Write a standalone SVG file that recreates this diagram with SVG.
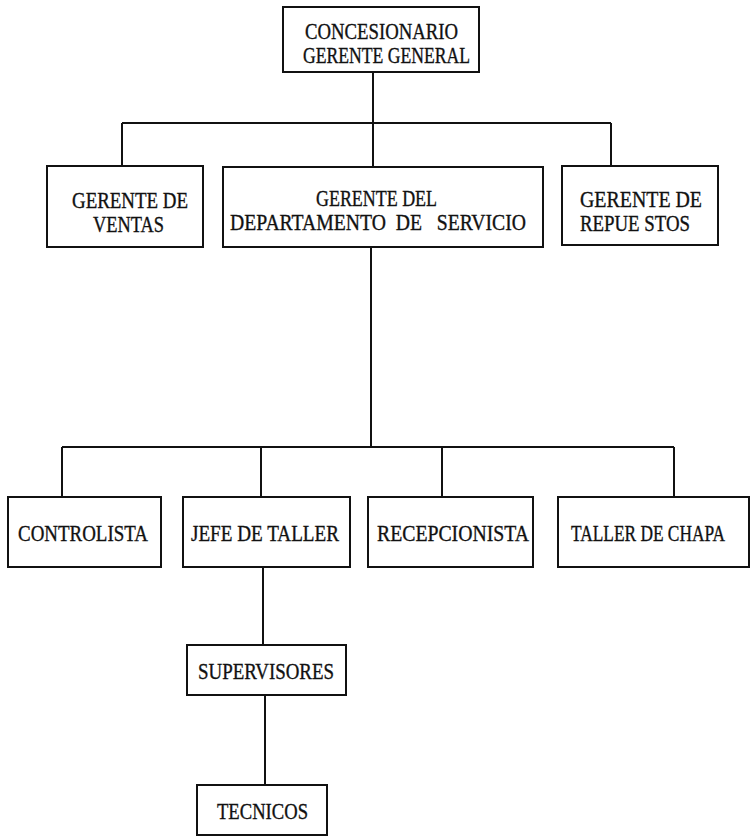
<svg xmlns="http://www.w3.org/2000/svg" width="756" height="837" viewBox="0 0 756 837">
<style>
  .box { fill: #fff; stroke: #111; stroke-width: 2; }
  .ln { fill: none; stroke: #111; stroke-width: 2; }
  text { font-family: "Liberation Serif", "Times New Roman", serif; font-size: 20px; fill: #111; stroke: #111; stroke-width: 0.3; white-space: pre; }
</style>
<rect width="756" height="837" fill="#fff"/>
<g id="connectors">
  <path class="ln" d="M373 72 V123 M122 123 H611 M122 123 V166 M611 123 V166 M373 123 V167"/>
  <path class="ln" d="M371 246 V447 M62 447 H674 M62 447 V497 M261 447 V497 M442 447 V497 M674 447 V497"/>
  <path class="ln" d="M263 567 V645 M265 695 V785"/>
</g>
<g id="n-concesionario">
  <rect class="box" x="283" y="7" width="196" height="65"/>
  <text x="305" y="39" transform="matrix(1 0 0 1.2 0 -7.8)" textLength="153" lengthAdjust="spacingAndGlyphs">CONCESIONARIO</text>
  <text x="303" y="63" transform="matrix(1 0 0 1.2 0 -12.6)" textLength="167" lengthAdjust="spacingAndGlyphs">GERENTE GENERAL</text>
</g>
<g id="n-ventas">
  <rect class="box" x="47" y="166" width="156" height="81"/>
  <text x="72" y="208" transform="matrix(1 0 0 1.2 0 -41.6)" textLength="116" lengthAdjust="spacingAndGlyphs">GERENTE DE</text>
  <text x="93" y="232" transform="matrix(1 0 0 1.2 0 -46.4)" textLength="71" lengthAdjust="spacingAndGlyphs">VENTAS</text>
</g>
<g id="n-servicio">
  <rect class="box" x="223" y="167" width="320" height="80"/>
  <text x="316" y="206" transform="matrix(1 0 0 1.2 0 -41.2)" textLength="121" lengthAdjust="spacingAndGlyphs">GERENTE DEL</text>
  <text x="230" y="230" transform="matrix(1 0 0 1.2 0 -46)" textLength="296" lengthAdjust="spacingAndGlyphs" xml:space="preserve">DEPARTAMENTO  DE   SERVICIO</text>
</g>
<g id="n-repuestos">
  <rect class="box" x="562" y="166" width="156" height="79"/>
  <text x="580" y="207" transform="matrix(1 0 0 1.2 0 -41.4)" textLength="122" lengthAdjust="spacingAndGlyphs">GERENTE DE</text>
  <text x="580" y="231" transform="matrix(1 0 0 1.2 0 -46.2)" textLength="110" lengthAdjust="spacingAndGlyphs">REPUE STOS</text>
</g>
<g id="n-controlista">
  <rect class="box" x="8" y="497" width="153" height="70"/>
  <text x="18" y="541" transform="matrix(1 0 0 1.2 0 -108.2)" textLength="130" lengthAdjust="spacingAndGlyphs">CONTROLISTA</text>
</g>
<g id="n-jefe">
  <rect class="box" x="183" y="497" width="167" height="70"/>
  <text x="191" y="541" transform="matrix(1 0 0 1.2 0 -108.2)" textLength="148" lengthAdjust="spacingAndGlyphs">JEFE DE TALLER</text>
</g>
<g id="n-recepcionista">
  <rect class="box" x="368" y="497" width="165" height="70"/>
  <text x="377" y="541" transform="matrix(1 0 0 1.2 0 -108.2)" textLength="152" lengthAdjust="spacingAndGlyphs">RECEPCIONISTA</text>
</g>
<g id="n-chapa">
  <rect class="box" x="558" y="497" width="191" height="70"/>
  <text x="571" y="541" transform="matrix(1 0 0 1.2 0 -108.2)" textLength="154" lengthAdjust="spacingAndGlyphs">TALLER DE CHAPA</text>
</g>
<g id="n-supervisores">
  <rect class="box" x="187" y="645" width="159" height="50"/>
  <text x="198" y="679" transform="matrix(1 0 0 1.2 0 -135.8)" textLength="136" lengthAdjust="spacingAndGlyphs">SUPERVISORES</text>
</g>
<g id="n-tecnicos">
  <rect class="box" x="197" y="785" width="130" height="50"/>
  <text x="217" y="819" transform="matrix(1 0 0 1.2 0 -163.8)" textLength="91" lengthAdjust="spacingAndGlyphs">TECNICOS</text>
</g>
</svg>
